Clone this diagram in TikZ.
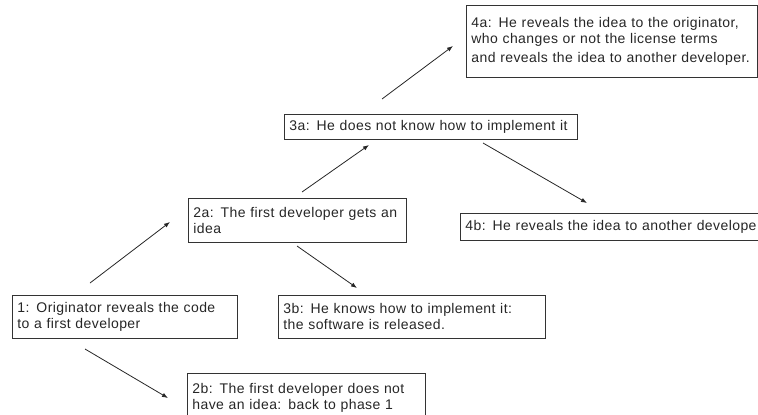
\documentclass[tikz,border=0pt]{standalone}
\usepackage{fontspec}
\setmainfont{Liberation Sans}[LetterSpace=3]
\usetikzlibrary{arrows.meta}
\tikzset{box/.style={draw=black!80, line width=0.8pt, anchor=north west, align=left, inner xsep=5pt, inner ysep=2pt, text=black!85, font=\fontsize{14}{16}\selectfont}}

\begin{document}
\begin{tikzpicture}[x=1pt, y=-1pt, >={Latex[length=6pt,width=4.5pt]}]
\useasboundingbox (0,0) rectangle (758,415);
\clip (0,0) rectangle (758,415);
\node (ORIG) at (12,295) [box, text width=215pt, minimum height=43pt] {1: Originator reveals the code\\ to a first developer};
\node (IDEA) at (188,198) [box, text width=208pt, minimum height=44pt] {2a: The first developer gets an\\ idea};
\node (NOIDEA) at (187,373) [box, text width=228pt, minimum height=49pt] {2b: The first developer does not\\ have an idea: back to phase 1};
\node (NOIMPL) at (284,114) [box, text width=283pt, minimum height=25pt] {3a: He does not know how to implement it};
\node (IMPL) at (278,295) [box, text width=257pt, minimum height=43pt] {3b: He knows how to implement it:\\ the software is released.};
\node (NEXT) at (466,5) [box, text width=281pt, minimum height=72pt] {4a: He reveals the idea to the originator,\\ who changes or not the license terms\\[3pt] and reveals the idea to another developer.};
\node (OTHER) at (460,213) [box, text width=330pt, minimum height=27pt] {4b: He reveals the idea to another develope};

% arrow ends, kept clear of the boxes
\coordinate (ORIGup) at (90,283);
\coordinate (IDEAin) at (170,222);
\coordinate (IDEAup) at (302,192);
\coordinate (NOIMPLin) at (369,145);
\coordinate (NOIMPLup) at (382,99);
\coordinate (NEXTin) at (453,46);
\coordinate (NOIMPLdown) at (483,143);
\coordinate (OTHERin) at (587,203);
\coordinate (IDEAdown) at (297,246);
\coordinate (IMPLin) at (357,288);
\coordinate (ORIGdown) at (85,349);
\coordinate (NOIDEAin) at (168,398);

\draw [->, black!85, line width=0.8pt] (ORIGup) to (IDEAin);
\draw [->, black!85, line width=0.8pt] (IDEAup) to (NOIMPLin);
\draw [->, black!85, line width=0.8pt] (NOIMPLup) to (NEXTin);
\draw [->, black!85, line width=0.8pt] (NOIMPLdown) to (OTHERin);
\draw [->, black!85, line width=0.8pt] (IDEAdown) to (IMPLin);
\draw [->, black!85, line width=0.8pt] (ORIGdown) to (NOIDEAin);
\end{tikzpicture}
\end{document}
